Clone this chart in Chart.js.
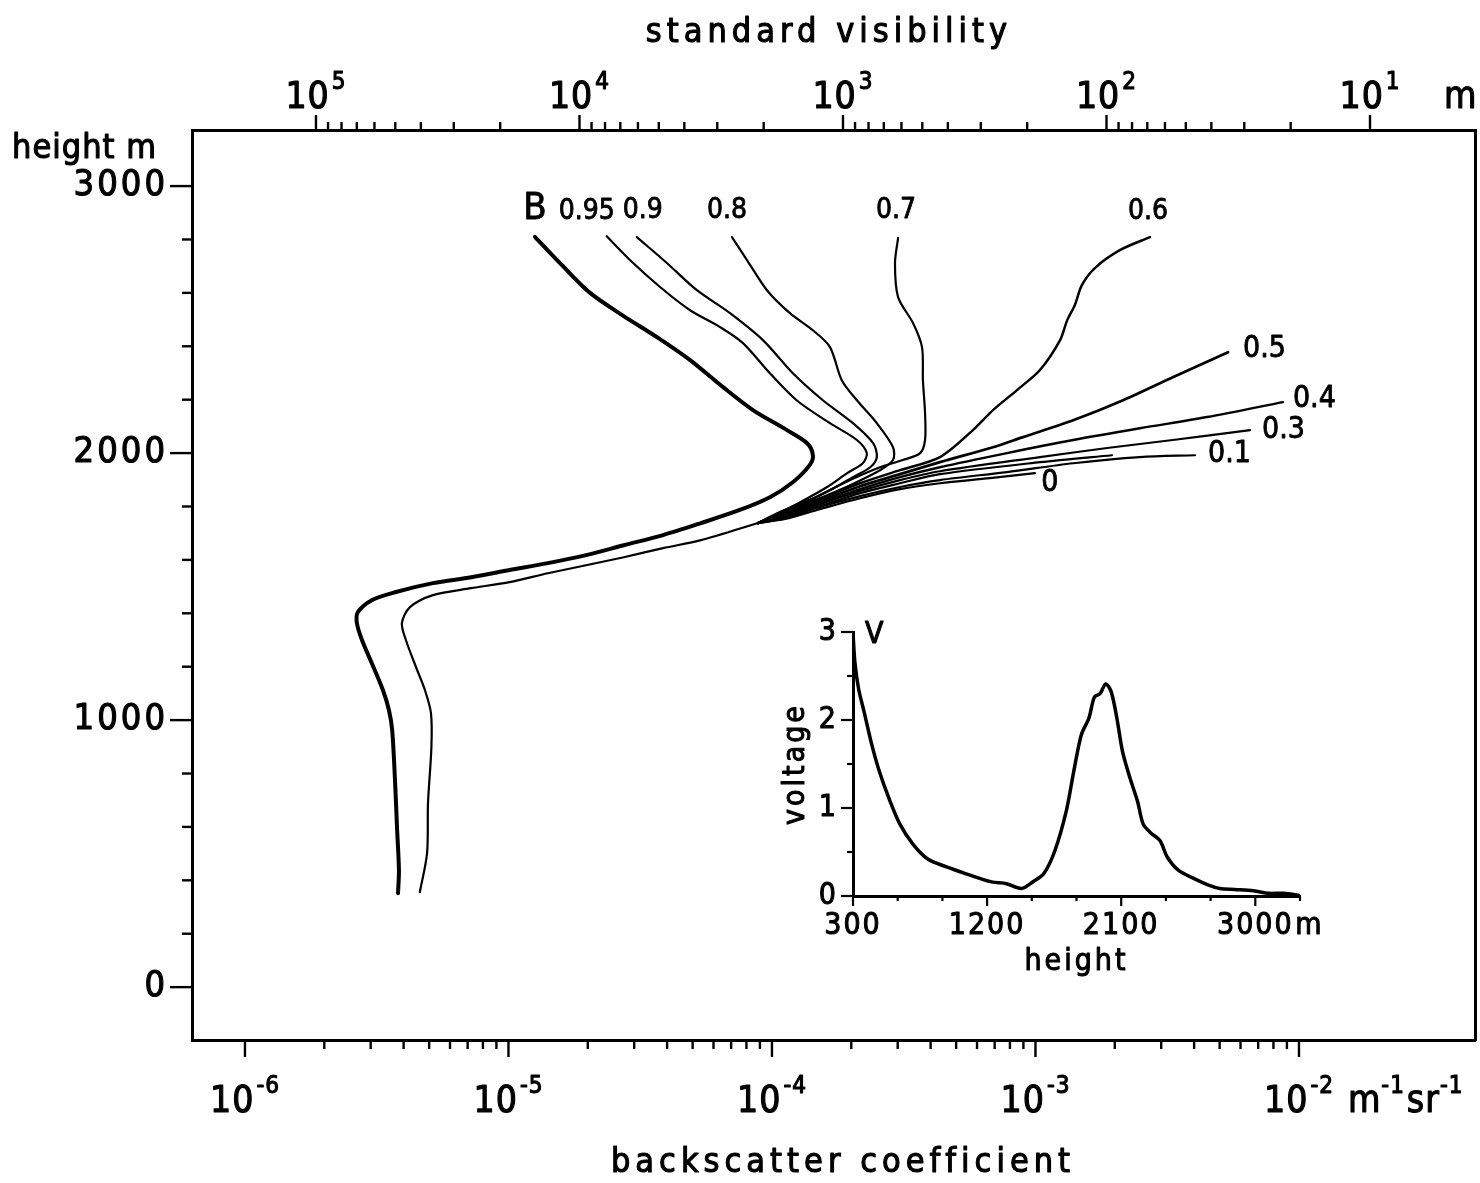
<!DOCTYPE html>
<html>
<head>
<meta charset="utf-8">
<script src="https://cdn.jsdelivr.net/npm/chart.js@4.4.1/dist/chart.umd.min.js"></script>
<style>
  html, body { margin: 0; padding: 0; background: #fff; }
  #wrap { position: relative; width: 1480px; height: 1183px; }
  #main { position: absolute; left: 0; top: 0; }
  #inset { position: absolute; left: 760px; top: 600px; }
</style>
</head>
<body>
<div id="wrap">
  <canvas id="main" width="1480" height="1183"></canvas>
  <canvas id="inset" width="580" height="390"></canvas>
</div>
<script>
// backscatter coefficient (m-1 sr-1) and height (m)

// B (thick)
var betaB = [1.26e-5, 1.61e-5, 2.04e-5, 2.72e-5, 3.66e-5, 4.89e-5, 6.52e-5, 8.47e-5, 1.14e-4, 1.36e-4, 1.43e-4, 1.39e-4,
  1.20e-4, 9.82e-5, 7.50e-5, 5.38e-5, 3.86e-5, 2.74e-5, 1.97e-5, 1.41e-5, 1.01e-5, 7.21e-6, 5.17e-6, 3.71e-6,
  3.03e-6, 2.68e-6, 2.66e-6, 2.78e-6, 3.03e-6, 3.34e-6, 3.52e-6, 3.62e-6, 3.71e-6, 3.78e-6, 3.84e-6, 3.81e-6];
var heightB = [2810, 2700, 2600, 2515, 2434, 2348, 2247, 2161, 2086, 2037, 1992, 1955,
  1891, 1835, 1786, 1738, 1693, 1655, 1618, 1588, 1562, 1535, 1513, 1479,
  1449, 1404, 1363, 1300, 1213, 1112, 1037, 962, 775, 588, 438, 352];

// common lower branch of all the other ratios
var betaLow = [8.85e-5, 5.38e-5, 3.86e-5, 2.74e-5, 1.97e-5, 1.41e-5, 1.01e-5, 7.21e-6, 5.17e-6, 4.23e-6,
  3.94e-6, 4.08e-6, 4.46e-6, 4.82e-6, 5.08e-6, 5.10e-6, 4.95e-6, 4.91e-6, 4.61e-6];
var heightLow = [1738, 1674, 1644, 1610, 1580, 1550, 1517, 1494, 1468, 1423,
  1363, 1300, 1198, 1112, 1026, 899, 689, 502, 356];

// upper branches
var beta095 = [2.36e-5, 2.89e-5, 3.76e-5, 4.89e-5, 6.35e-5, 7.76e-5, 9.82e-5, 1.24e-4, 1.66e-4, 2.10e-4, 2.29e-4, 2.21e-4, 1.93e-4, 1.62e-4, 1.28e-4, 1.03e-4];
var height095 = [2812, 2723, 2622, 2535, 2472, 2412, 2299, 2198, 2112, 2049, 2000, 1962, 1925, 1873, 1816, 1768];

var beta09 = [3.07e-5, 4.00e-5, 5.19e-5, 6.93e-5, 9.24e-5, 1.20e-4, 1.56e-4, 2.03e-4, 2.42e-4, 2.50e-4, 2.36e-4, 2.03e-4, 1.66e-4, 1.28e-4, 1.03e-4];
var height09 = [2809, 2711, 2610, 2524, 2423, 2299, 2198, 2112, 2037, 1985, 1947, 1910, 1861, 1805, 1764];

var beta08 = [7.05e-5, 8.04e-5, 9.57e-5, 1.17e-4, 1.43e-4, 1.66e-4, 1.84e-4, 2.10e-4, 2.50e-4, 2.88e-4, 2.88e-4, 2.57e-4, 1.98e-4, 1.46e-4, 1.07e-4];
var height08 = [2809, 2723, 2610, 2524, 2460, 2397, 2273, 2198, 2112, 2022, 1974, 1936, 1880, 1824, 1771];

var beta07 = [3.01e-4, 2.93e-4, 3.01e-4, 3.43e-4, 3.71e-4, 3.74e-4, 3.81e-4, 3.81e-4, 3.65e-4, 3.14e-4, 2.57e-4, 1.98e-4, 1.46e-4, 1.07e-4];
var height07 = [2805, 2711, 2584, 2487, 2397, 2273, 2150, 2049, 2000, 1974, 1947, 1899, 1835, 1779];

var beta06 = [2.72e-3, 2.09e-3, 1.68e-3, 1.50e-3, 1.41e-3, 1.32e-3, 1.24e-3, 1.04e-3, 8.51e-4, 6.90e-4, 5.79e-4, 4.34e-4, 3.06e-4, 2.16e-4, 1.52e-4, 1.12e-4];
var height06 = [2809, 2760, 2693, 2629, 2554, 2498, 2423, 2311, 2236, 2161, 2086, 1985, 1936, 1887, 1828, 1775];

var beta05 = [5.38e-3, 3.32e-3, 2.15e-3, 1.39e-3, 8.97e-4, 6.90e-4, 4.34e-4, 3.06e-4, 2.16e-4, 1.52e-4, 1.12e-4];
var height05 = [2378, 2284, 2198, 2123, 2060, 2022, 1966, 1921, 1876, 1820, 1771];

var beta04 = [8.69e-3, 4.48e-3, 2.49e-3, 1.39e-3, 7.80e-4, 4.34e-4, 3.06e-4, 2.16e-4, 1.52e-4, 1.12e-4];
var height04 = [2191, 2135, 2093, 2049, 2000, 1947, 1910, 1865, 1813, 1768];

var beta03 = [6.52e-3, 3.32e-3, 1.87e-3, 1.04e-3, 4.34e-4, 3.06e-4, 2.16e-4, 1.52e-4, 1.12e-4];
var height03 = [2086, 2049, 2019, 1985, 1932, 1899, 1858, 1809, 1764];

var beta02 = [1.95e-3, 1.04e-3, 4.34e-4, 3.06e-4, 2.16e-4, 1.52e-4, 1.12e-4];
var height02 = [1992, 1966, 1921, 1887, 1850, 1801, 1760];

var beta01 = [4.03e-3, 2.49e-3, 1.39e-3, 7.80e-4, 4.34e-4, 3.06e-4, 2.16e-4, 1.52e-4, 1.12e-4];
var height01 = [1992, 1985, 1962, 1929, 1899, 1873, 1839, 1798, 1756];

var beta00 = [9.95e-4, 6.72e-4, 4.34e-4, 3.06e-4, 2.16e-4, 1.52e-4, 1.12e-4];
var height00 = [1925, 1906, 1887, 1865, 1831, 1790, 1753];

// inset: lidar signal voltage vs height
var insetHeight = [300, 313, 338, 375, 426, 476, 539, 614, 702, 802, 928, 1054, 1229, 1330, 1430, 1506, 1581, 1656,
  1732, 1782, 1832, 1883, 1920, 1958, 1996, 2033, 2071, 2109, 2159, 2209, 2247, 2297, 2360, 2410, 2485,
  2586, 2686, 2762, 2862, 2988, 3088, 3189, 3314];
var insetVoltage = [2.99, 2.65, 2.35, 2.09, 1.72, 1.42, 1.12, 0.82, 0.59, 0.42, 0.33, 0.255, 0.16, 0.14, 0.086, 0.16, 0.255, 0.52,
  0.97, 1.42, 1.83, 2.02, 2.26, 2.30, 2.41, 2.32, 2.02, 1.64, 1.34, 1.08, 0.82, 0.72, 0.63, 0.44, 0.29,
  0.20, 0.124, 0.086, 0.075, 0.06, 0.03, 0.03, 0];

// tick labels
var bottomExps = [-6, -5, -4, -3, -2];
var topExps = [5, 4, 3, 2, 1];
var heightTicks = [0, 1000, 2000, 3000];
var insetHeightTicks = [300, 1200, 2100, 3000];
var insetVoltTicks = [0, 1, 2, 3];

var FONT = "'DejaVu Sans Condensed','Liberation Sans Narrow','DejaVu Sans',sans-serif";
var LIDAR = 0.186; // visibility * backscatter, links the two x axes

var X_MIN = 6.295e-7, X_MAX = 4.656e-2;

function pts(b, h) {
  return b.map(function (v, i) { return { x: v, y: h[i] }; });
}
function branch(b, h) {
  // upper branch runs into the common lower branch
  return pts(b.concat([betaLow[0]]), h.concat([heightLow[0]]));
}
function f(size) { return size + 'px ' + FONT; }
// medium weight: fill plus a thin outline
function txt(ctx, s, x, y) {
  ctx.fillText(s, x, y);
  ctx.strokeText(s, x, y);
}

var curves = [
  { text: 'B', data: pts(betaB, heightB), w: 4, dx: 0, dy: -28, size: 38, align: 'center' },
  { text: '0.95', data: branch(beta095, height095), w: 2.2, dx: -20, dy: -25, size: 28, align: 'center' },
  { text: '0.9', data: branch(beta09, height09), w: 2.2, dx: 6, dy: -26, size: 28, align: 'center' },
  { text: '0.8', data: branch(beta08, height08), w: 2.2, dx: -5, dy: -26, size: 28, align: 'center' },
  { text: '0.7', data: branch(beta07, height07), w: 2.2, dx: -2, dy: -27, size: 28, align: 'center' },
  { text: '0.6', data: branch(beta06, height06), w: 2.5, dx: -2, dy: -25, size: 28, align: 'center' },
  { text: '0.5', data: branch(beta05, height05), w: 2.8, dx: 15, dy: -3, size: 30, align: 'left' },
  { text: '0.4', data: branch(beta04, height04), w: 2.4, dx: 10, dy: -3, size: 30, align: 'left' },
  { text: '0.3', data: branch(beta03, height03), w: 2.2, dx: 12, dy: 0, size: 30, align: 'left' },
  { text: '', data: branch(beta02, height02), w: 2.2 },
  { text: '0.1', data: branch(beta01, height01), w: 2.2, dx: 13, dy: -1, size: 30, align: 'left' },
  { text: '0', data: branch(beta00, height00), w: 2.2, dx: 15, dy: 10, size: 30, align: 'center' },
  { text: '', data: pts(betaLow, heightLow), w: 2.2 }
];

function line(ctx, x1, y1, x2, y2) {
  ctx.beginPath(); ctx.moveTo(x1, y1); ctx.lineTo(x2, y2); ctx.stroke();
}

function drawPow(ctx, exp, cx, baseY, size) {
  var esize = Math.round(size * 0.66);
  ctx.font = f(size);
  var w1 = ctx.measureText('10').width;
  ctx.font = f(esize);
  var w2 = ctx.measureText(exp).width;
  var x0 = cx - (w1 + w2 + 2) / 2;
  ctx.textAlign = 'left';
  ctx.textBaseline = 'alphabetic';
  ctx.font = f(size);
  txt(ctx, '10', x0, baseY);
  ctx.font = f(esize);
  txt(ctx, exp, x0 + w1 + 2, baseY - size * 0.52);
  return x0 + w1 + w2 + 2;
}

var axisDecor = {
  id: 'axisDecor',
  afterDraw: function (chart) {
    var ctx = chart.ctx, a = chart.chartArea, sx = chart.scales.x, sx2 = chart.scales.x2, sy = chart.scales.y;
    ctx.save();
    ctx.strokeStyle = '#000';
    ctx.fillStyle = '#000';
    ctx.lineWidth = 2.4;

    // bottom: backscatter decades
    for (var e = -6; e <= -2; e++) {
      for (var m = 1; m <= 9; m++) {
        if (e === -2 && m > 1) break;
        var px = sx.getPixelForValue(m * Math.pow(10, e));
        line(ctx, px, a.bottom, px, a.bottom + (m === 1 ? 17 : 9));
      }
    }
    // top: visibility decades
    for (var e2 = 1; e2 <= 5; e2++) {
      for (var m2 = 1; m2 <= 9; m2++) {
        if (e2 === 5 && m2 > 1) break;
        var px2 = sx2.getPixelForValue(m2 * Math.pow(10, e2));
        line(ctx, px2, a.top, px2, a.top - (m2 === 1 ? 15 : 8));
      }
    }
    // left: height every 200 m
    for (var h = 0; h <= 3000; h += 200) {
      var py = sy.getPixelForValue(h);
      line(ctx, a.left - (h % 1000 === 0 ? 22 : 10), py, a.left, py);
    }

    ctx.lineWidth = 1.1;
    ctx.lineJoin = 'round';
    ctx.letterSpacing = '1px';
    bottomExps.forEach(function (ex) {
      var end = drawPow(ctx, String(ex), sx.getPixelForValue(Math.pow(10, ex)), 1112, 37);
      if (ex === -2) {
        // unit after the last label
        var x = end + 14;
        ctx.font = f(37);
        txt(ctx, 'm', x, 1112);
        x += ctx.measureText('m').width;
        ctx.font = f(24);
        txt(ctx, '-1', x, 1093);
        x += ctx.measureText('-1').width + 2;
        ctx.font = f(37);
        txt(ctx, 'sr', x, 1112);
        x += ctx.measureText('sr').width;
        ctx.font = f(24);
        txt(ctx, '-1', x, 1093);
      }
    });
    topExps.forEach(function (ex) {
      drawPow(ctx, String(ex), sx2.getPixelForValue(Math.pow(10, ex)), 108, 37);
    });
    ctx.font = f(37);
    ctx.textAlign = 'left';
    txt(ctx, 'm', 1444, 108);

    ctx.textAlign = 'right';
    ctx.textBaseline = 'middle';
    ctx.letterSpacing = '3px';
    ctx.font = f(36);
    heightTicks.forEach(function (t) {
      txt(ctx, String(t), a.left - 24, sy.getPixelForValue(t));
    });
    ctx.textAlign = 'left';
    ctx.textBaseline = 'alphabetic';
    ctx.letterSpacing = '1px';
    ctx.font = f(34);
    txt(ctx, 'height m', 12, 158);

    // axis titles
    ctx.textAlign = 'center';
    ctx.letterSpacing = '5px';
    ctx.font = f(34);
    txt(ctx, 'standard visibility', 829, 42);
    txt(ctx, 'backscatter coefficient', 843, 1172);

    // curve labels at the start of each curve
    ctx.letterSpacing = '0px';
    ctx.textBaseline = 'middle';
    ctx.lineWidth = 0.8;
    curves.forEach(function (c) {
      if (!c.text) return;
      var p = c.data[0];
      ctx.font = f(c.size);
      ctx.textAlign = c.align;
      txt(ctx, c.text, sx.getPixelForValue(p.x) + c.dx, sy.getPixelForValue(p.y) + c.dy);
    });
    ctx.restore();
  }
};

var plain = {
  display: true,
  grid: { display: false },
  ticks: { display: false },
  border: { display: true, color: '#000', width: 3 }
};

new Chart(document.getElementById('main'), {
  type: 'line',
  data: {
    datasets: curves.map(function (c) {
      return { data: c.data, borderColor: '#000', borderWidth: c.w, pointRadius: 0, tension: 0.3, fill: false };
    })
  },
  options: {
    responsive: false,
    animation: false,
    events: [],
    layout: { padding: 0 },
    plugins: { legend: { display: false }, tooltip: { enabled: false } },
    elements: { line: { borderCapStyle: 'round', borderJoinStyle: 'round' } },
    scales: {
      x: Object.assign({}, plain, { type: 'logarithmic', position: 'bottom', min: X_MIN, max: X_MAX,
        afterFit: function (s) { s.height = 143; } }),
      x2: Object.assign({}, plain, { type: 'logarithmic', position: 'top', reverse: true,
        min: LIDAR / X_MAX, max: LIDAR / X_MIN, afterFit: function (s) { s.height = 130; } }),
      y: Object.assign({}, plain, { type: 'linear', position: 'left', min: -198, max: 3210,
        afterFit: function (s) { s.width = 192; } }),
      y2: Object.assign({}, plain, { type: 'linear', position: 'right', min: -198, max: 3210,
        afterFit: function (s) { s.width = 5; } })
    }
  },
  plugins: [axisDecor]
});

// inset
var insetDecor = {
  id: 'insetDecor',
  afterDraw: function (chart) {
    var ctx = chart.ctx, a = chart.chartArea, sx = chart.scales.x, sy = chart.scales.y;
    ctx.save();
    ctx.strokeStyle = '#000';
    ctx.fillStyle = '#000';
    ctx.lineWidth = 2.2;
    for (var v = 0; v <= 3; v += 0.5) {
      var py = sy.getPixelForValue(v);
      line(ctx, a.left - (v % 1 === 0 ? 12 : 6), py, a.left, py);
    }
    for (var h = 300; h <= 3300; h += 300) {
      var px = sx.getPixelForValue(h);
      line(ctx, px, a.bottom, px, a.bottom + ((h - 300) % 900 === 0 ? 10 : 5));
    }
    ctx.lineWidth = 1;
    ctx.lineJoin = 'round';
    ctx.font = f(30);
    ctx.letterSpacing = '1px';
    ctx.textAlign = 'right';
    ctx.textBaseline = 'middle';
    insetVoltTicks.forEach(function (t) {
      txt(ctx, String(t), a.left - 16, sy.getPixelForValue(t));
    });
    ctx.textAlign = 'left';
    txt(ctx, 'V', a.left + 12, a.top + 3);
    ctx.textAlign = 'center';
    ctx.letterSpacing = '2px';
    insetHeightTicks.forEach(function (t) {
      txt(ctx, String(t), sx.getPixelForValue(t), a.bottom + 30);
    });
    ctx.textAlign = 'left';
    txt(ctx, 'm', sx.getPixelForValue(3000) + 40, a.bottom + 30);
    ctx.textAlign = 'center';
    ctx.letterSpacing = '3px';
    txt(ctx, 'height', (a.left + a.right) / 2, a.bottom + 66);
    ctx.translate(a.left - 57, (a.top + a.bottom) / 2);
    ctx.rotate(-Math.PI / 2);
    txt(ctx, 'voltage', 0, 0);
    ctx.restore();
  }
};

new Chart(document.getElementById('inset'), {
  type: 'line',
  data: {
    datasets: [{ data: pts(insetHeight, insetVoltage), borderColor: '#000', borderWidth: 3.5, pointRadius: 0, tension: 0.3, fill: false }]
  },
  options: {
    responsive: false,
    animation: false,
    events: [],
    layout: { padding: { top: 32, right: 40 } },
    plugins: { legend: { display: false }, tooltip: { enabled: false } },
    scales: {
      x: Object.assign({}, plain, { type: 'linear', position: 'bottom', min: 300, max: 3300,
        afterFit: function (s) { s.height = 94; } }),
      y: Object.assign({}, plain, { type: 'linear', position: 'left', min: 0, max: 3,
        afterFit: function (s) { s.width = 93; } })
    }
  },
  plugins: [insetDecor]
});
</script>
</body>
</html>
